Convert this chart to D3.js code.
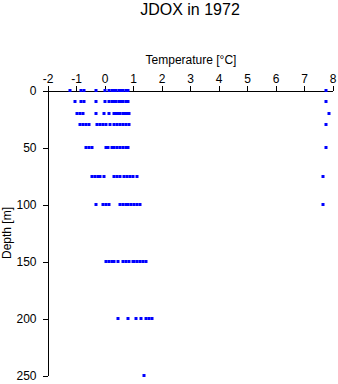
<!DOCTYPE html>
<html><head><meta charset="utf-8">
<script src="https://cdn.jsdelivr.net/npm/d3@7"></script>
<style>body{margin:0;background:#fff}svg{display:block}text{font-family:"Liberation Sans",Arial,sans-serif;fill:#000}</style>
</head><body>
<script>
const title = "JDOX in 1972";
const xLabel = "Temperature [°C]";
const yLabel = "Depth [m]";
const xTicks = [-2,-1,0,1,2,3,4,5,6,7,8];
const yTicks = [0,50,100,150,200,250];
const depths = [0,10,20,30,50,75,100,150,200,250];
const t0   = [-1.21,-0.83,-0.72,-0.3,0.0,0.17,0.25,0.33,0.42,0.5,0.58,0.66,0.75,0.84,7.78];
const t10  = [-1.02,-0.83,-0.72,-0.3,0.0,0.17,0.25,0.33,0.42,0.5,0.58,0.66,0.75,0.84,7.78];
const t20  = [-0.95,-0.86,-0.76,-0.3,-0.02,0.16,0.33,0.4,0.47,0.54,0.65,0.72,0.79,0.86,7.89];
const t30  = [-0.86,-0.76,-0.66,-0.55,-0.27,-0.17,-0.07,0.04,0.18,0.33,0.43,0.54,0.65,0.75,0.86,7.78];
const t50  = [-0.65,-0.55,-0.45,0.04,0.14,0.25,0.34,0.44,0.54,0.64,0.74,0.84,7.78];
const t75  = [-0.44,-0.34,-0.24,-0.16,-0.03,0.34,0.45,0.56,0.67,0.78,0.9,1.01,1.13,7.68];
const t100 = [-0.31,-0.04,0.06,0.16,0.54,0.64,0.74,0.84,0.94,1.04,1.13,1.25,7.68];
const t150 = [0.05,0.15,0.25,0.34,0.46,0.66,0.76,0.86,0.99,1.05,1.15,1.25,1.35,1.46];
const t200 = [0.48,0.81,1.1,1.29,1.45,1.55,1.66];
const t250 = [1.40];
const tempsByDepth = [t0,t10,t20,t30,t50,t75,t100,t150,t200,t250];

const points = [];
depths.forEach((d,i)=>tempsByDepth[i].forEach(t=>points.push({d,t})));

const W=338,H=384;
const svg=d3.select("body").append("svg").attr("width",W).attr("height",H);
const x=d3.scaleLinear().domain([-2,8]).range([47.5,332.5]);
const y=d3.scaleLinear().domain([0,250]).range([90.5,375.5]);

svg.append("text").attr("x",190).attr("y",15).attr("text-anchor","middle").style("font-size","16px").text(title);
svg.append("text").attr("x",191).attr("y",64).attr("text-anchor","middle").style("font-size","12px").text(xLabel);
svg.append("text").attr("transform","translate(11,233) rotate(-90)").attr("text-anchor","middle").style("font-size","12px").text(yLabel);

const fmt = d => String(d);
const xa=svg.append("g").attr("transform","translate(0,90.5)")
  .call(d3.axisTop(x).tickValues(xTicks).tickSize(5).tickPadding(3).tickSizeOuter(0).tickFormat(fmt));
xa.selectAll("text").style("font-size","12px").attr("font-family",null);
const ya=svg.append("g").attr("transform","translate(47.5,0)")
  .call(d3.axisLeft(y).tickValues(yTicks).tickSize(5).tickPadding(6).tickSizeOuter(0).tickFormat(fmt));
ya.selectAll("text").style("font-size","12px").attr("font-family",null);
svg.selectAll(".domain,.tick line").attr("stroke","#000").attr("shape-rendering","crispEdges");

svg.append("g").selectAll("rect").data(points).join("rect")
  .attr("x",p=>Math.round(x(p.t))-1.5).attr("y",p=>Math.round(y(p.d)-0.5)-1)
  .attr("width",3).attr("height",3).attr("fill","#0000ff");
</script>
</body></html>
